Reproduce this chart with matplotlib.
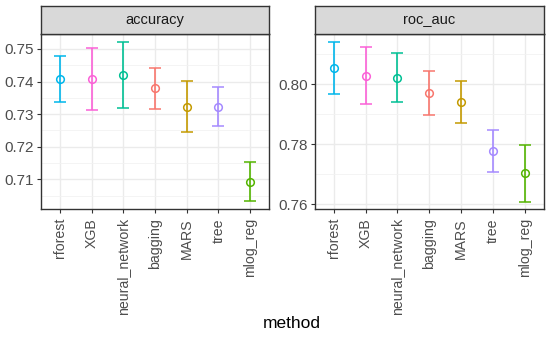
import matplotlib.pyplot as plt
from matplotlib.ticker import MultipleLocator

plt.rcParams["font.family"] = ["Liberation Sans", "DejaVu Sans"]

methods = ["rforest", "XGB", "neural_network", "bagging", "MARS", "tree", "mlog_reg"]
colors = ["#00B6EB", "#FB61D7", "#00C094", "#F8766D", "#C49A00", "#A58AFF", "#53B400"]

acc_mean = [0.7407, 0.7407, 0.7420, 0.7380, 0.7322, 0.7323, 0.7093]
acc_lo = [0.7336, 0.7313, 0.7318, 0.7316, 0.7244, 0.7265, 0.7033]
acc_hi = [0.7479, 0.7502, 0.7521, 0.7443, 0.7402, 0.7383, 0.7152]

auc_mean = [0.8056, 0.8029, 0.8022, 0.7970, 0.7941, 0.7776, 0.7703]
auc_lo = [0.7969, 0.7934, 0.7941, 0.7897, 0.7870, 0.7707, 0.7608]
auc_hi = [0.8141, 0.8123, 0.8103, 0.8046, 0.8012, 0.7846, 0.7797]

W, H = 550, 337
fig = plt.figure(figsize=(W / 100, H / 100), dpi=100)


def panel(x0, x1, title, mean, lo, hi, ylim, major, minor):
    ax = fig.add_axes([x0 / W, 1 - 209 / H, (x1 - x0) / W, 175 / H])
    strip = fig.add_axes([x0 / W, 1 - 34 / H, (x1 - x0) / W, 28 / H])
    strip.set_facecolor("#D9D9D9")
    strip.set_xticks([])
    strip.set_yticks([])
    for s in strip.spines.values():
        s.set_color("#333333")
        s.set_linewidth(1.0)
    strip.text(0.5, 0.5, title, ha="center", va="center", fontsize=10.5,
               color="#1A1A1A", transform=strip.transAxes)

    xs = list(range(len(methods)))
    for i in xs:
        ax.errorbar(xs[i], mean[i], yerr=[[mean[i] - lo[i]], [hi[i] - mean[i]]],
                    fmt="o", color=colors[i], mfc="none", ms=5.5, mew=1.1,
                    elinewidth=1.2, capsize=4, capthick=1.2, zorder=3)
    ax.set_xlim(-0.6, len(methods) - 0.4)
    ax.set_ylim(*ylim)
    ax.set_xticks(xs)
    ax.set_xticklabels(methods, rotation=90, fontsize=10.2, color="#4D4D4D")
    ax.yaxis.set_major_locator(MultipleLocator(major))
    ax.yaxis.set_minor_locator(MultipleLocator(minor))
    ax.yaxis.set_major_formatter(plt.FormatStrFormatter("%.2f"))
    ax.tick_params(axis="y", labelsize=11, colors="#333333", labelcolor="#4D4D4D",
                   length=3, width=0.8, pad=2)
    ax.tick_params(axis="x", length=3, width=0.8, colors="#333333",
                   labelcolor="#4D4D4D", pad=3.5)
    ax.tick_params(axis="y", which="minor", length=0)
    ax.grid(True, which="major", color="#EBEBEB", linewidth=1.0, zorder=0)
    ax.grid(True, which="minor", axis="y", color="#F2F2F2", linewidth=0.6, zorder=0)
    ax.set_axisbelow(True)
    for s in ax.spines.values():
        s.set_color("#333333")
        s.set_linewidth(1.0)
    return ax


panel(41, 269, "accuracy", acc_mean, acc_lo, acc_hi, (0.7009, 0.7546), 0.01, 0.005)
panel(314.5, 544, "roc_auc", auc_mean, auc_lo, auc_hi, (0.7584, 0.8168), 0.02, 0.01)

fig.text(292 / W, 1 - 323 / H, "method", ha="center", va="center", fontsize=12.5,
         color="#000000")

fig.savefig("out.png", dpi=100)
